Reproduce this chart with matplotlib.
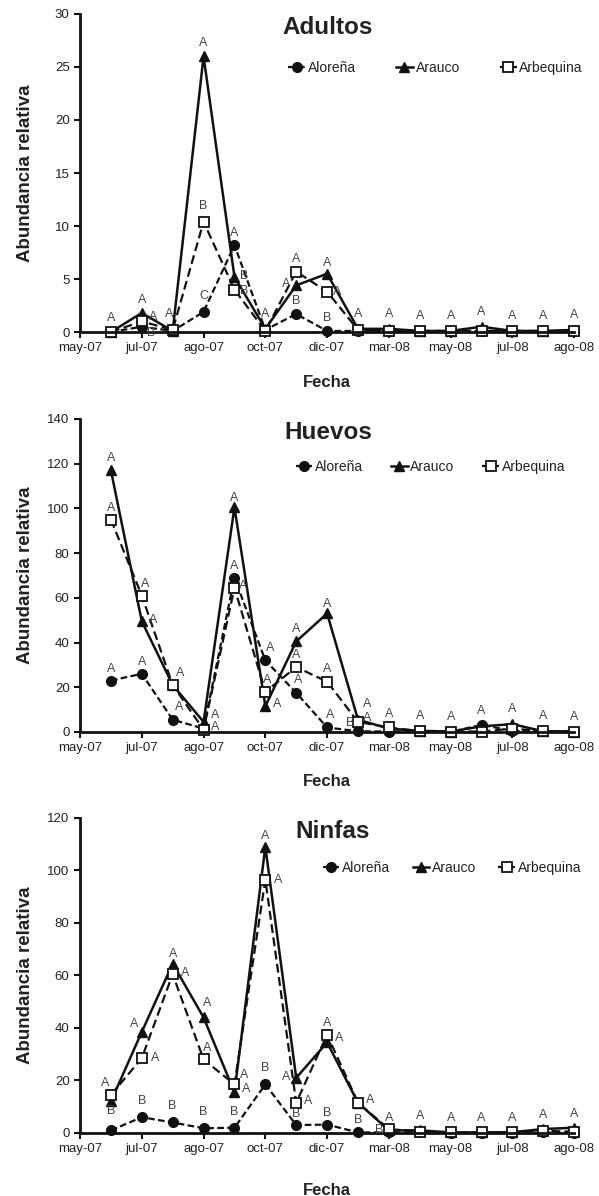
import numpy as np
import matplotlib.pyplot as plt

plt.rcParams['font.family'] = ['Liberation Sans', 'DejaVu Sans']

# muestreos (posicion en el eje de categorias)
muestreo = np.arange(1, 17)
tick_pos = np.arange(0, 17, 2)
tick_lab = ['may-07', 'jul-07', 'ago-07', 'oct-07', 'dic-07',
            'mar-08', 'may-08', 'jul-08', 'ago-08']

# Adultos
adu_aloreña = [0, 0.5, 0.1, 1.9, 8.2, 0.2, 1.7, 0.1, 0.1, 0.1, 0.05, 0.05, 0.1, 0.1, 0.05, 0.1]
adu_arauco = [0, 1.8, 0.1, 26, 5.2, 0.3, 4.4, 5.5, 0.3, 0.3, 0.1, 0.1, 0.5, 0.1, 0.1, 0.2]
adu_arbequina = [0, 1.0, 0.2, 10.4, 4.0, 0.1, 5.7, 3.8, 0.2, 0.1, 0.1, 0.1, 0.1, 0.1, 0.1, 0.1]

# Huevos
hue_aloreña = [23, 26, 5.5, 1.5, 69, 32, 17.5, 2, 0.3, 0.2, 0.3, 0, 3.2, 0.5, 0.3, 0.2]
hue_arauco = [117, 49.5, 21, 4.5, 100.5, 11.5, 40.5, 53, 5.5, 1.5, 0.5, 0.2, 2.5, 3.5, 0.3, 0.2]
hue_arbequina = [95, 61, 21, 1, 64.5, 18, 29, 22.5, 4.5, 2, 0.3, 0.2, 0.2, 1.5, 0.3, 0.2]

# Ninfas
nin_aloreña = [1, 6, 4, 1.8, 2, 18.5, 3, 3.2, 0.2, 0.2, 0.3, 0.1, 0.1, 0.1, 0.2, 0.1]
nin_arauco = [12, 38.5, 64.5, 44, 15.5, 109, 21, 34.5, 11.5, 1, 1, 0.2, 0.2, 0.3, 1.5, 2]
nin_arbequina = [14.5, 28.5, 60.5, 28, 18.5, 96.5, 11.5, 37.5, 11.5, 1.5, 0.5, 0.2, 0.2, 0.3, 0.8, 0.5]

# letras de significancia: (serie, muestreo, letra, dx, dy) dx/dy en pixeles
adu_letras = [('ar', 1, 'A', 0, 14), ('ar', 2, 'A', 0, 13), ('bq', 2, 'A', 11, 4), ('al', 2, 'B', 9, -6),
              ('bq', 3, 'A', -4, 16), ('ar', 4, 'A', 0, 13), ('bq', 4, 'B', 0, 16), ('al', 4, 'C', 0, 16),
              ('al', 5, 'A', 0, 12), ('ar', 5, 'B', 10, 1), ('bq', 5, 'B', 10, -1), ('ar', 6, 'A', 0, 15),
              ('bq', 7, 'A', 0, 13), ('ar', 7, 'A', -10, 1), ('al', 7, 'B', 0, 13),
              ('ar', 8, 'A', 0, 11), ('bq', 8, 'A', 10, 0), ('al', 8, 'B', 0, 13)] + \
             [('ar', i, 'A', 0, 15) for i in range(9, 17)]
hue_letras = [('ar', 1, 'A', 0, 12), ('bq', 1, 'A', 0, 12), ('al', 1, 'A', 0, 12),
              ('bq', 2, 'A', 3, 12), ('ar', 2, 'A', 11, 1), ('al', 2, 'A', 0, 12),
              ('bq', 3, 'A', 7, 12), ('al', 3, 'A', 6, 13), ('ar', 4, 'A', 12, 7), ('bq', 4, 'A', 12, 3),
              ('ar', 5, 'A', 0, 9), ('al', 5, 'A', 0, 12), ('bq', 5, 'A', 9, 2),
              ('al', 6, 'A', 5, 12), ('bq', 6, 'A', 2, 12), ('ar', 6, 'A', 12, 2),
              ('ar', 7, 'A', 0, 12), ('bq', 7, 'A', 0, 12), ('al', 7, 'A', 2, 13),
              ('ar', 8, 'A', 0, 9), ('bq', 8, 'A', 0, 13), ('al', 8, 'A', 3, 12),
              ('ar', 9, 'A', 9, 16), ('bq', 9, 'A', 9, 4), ('al', 9, 'B', -8, 8)] + \
             [('ar', i, 'A', 0, 15) for i in range(10, 17)]
nin_letras = [('bq', 1, 'A', -6, 12), ('al', 1, 'B', 0, 19),
              ('ar', 2, 'A', -8, 8), ('bq', 2, 'A', 13, 0), ('al', 2, 'B', 0, 16),
              ('ar', 3, 'A', 0, 10), ('bq', 3, 'A', 12, 1), ('al', 3, 'B', 0, 16),
              ('ar', 4, 'A', 4, 14), ('bq', 4, 'A', 4, 11), ('al', 4, 'B', 0, 16),
              ('bq', 5, 'A', 10, 9), ('ar', 5, 'A', 12, 3), ('al', 5, 'B', 0, 16),
              ('ar', 6, 'A', 0, 11), ('bq', 6, 'A', 13, 0), ('al', 6, 'B', 0, 16),
              ('ar', 7, 'A', -10, 1), ('bq', 7, 'A', 12, 2), ('al', 7, 'B', 0, 11),
              ('bq', 8, 'A', 0, 12), ('ar', 8, 'A', 12, 4), ('al', 8, 'B', 0, 12),
              ('bq', 9, 'A', 12, 3), ('al', 9, 'B', 0, 12),
              ('bq', 10, 'A', 0, 11), ('al', 10, 'B', -10, 2)] + \
             [('ar', i, 'A', 0, 14) for i in range(11, 17)]

paneles = [
    ('Adultos', adu_aloreña, adu_arauco, adu_arbequina, adu_letras, 30, 5,
     [0.1336, 0.7224, 0.825, 0.2659], (0.41, 0.83), 2.9, 0.5, 15),
    ('Huevos', hue_aloreña, hue_arauco, hue_arbequina, hue_letras, 140, 20,
     [0.1336, 0.388, 0.825, 0.2617], (0.425, 0.847), 2.0, 0.502, 14),
    ('Ninfas', nin_aloreña, nin_arauco, nin_arbequina, nin_letras, 120, 20,
     [0.1336, 0.0527, 0.825, 0.2634], (0.48, 0.841), 1.6, 0.512, 20),
]

fig = plt.figure(figsize=(5.99, 11.96), dpi=100)

for (titulo, al, ar, bq, letras, ymax, ystep, rect, leg_pos, colsp, tx, xpad) in paneles:
    ax = fig.add_axes(rect)
    series = {'al': al, 'ar': ar, 'bq': bq}
    ax.plot(muestreo, al, color='#111111', linestyle=(0, (3, 1.5)), linewidth=1.6,
            marker='o', markersize=7, markerfacecolor='#111111', label='Aloreña', clip_on=False)
    ax.plot(muestreo, ar, color='#111111', linestyle='-', linewidth=1.8,
            marker='^', markersize=7, markerfacecolor='#111111', label='Arauco', clip_on=False)
    ax.plot(muestreo, bq, color='#111111', linestyle=(0, (4, 2)), linewidth=1.6,
            marker='s', markersize=7, markerfacecolor='white', markeredgewidth=1.3,
            label='Arbequina', clip_on=False)

    for s, i, letra, dx, dy in letras:
        ax.annotate(letra, xy=(i, series[s][i - 1]), xytext=(dx, dy),
                    textcoords='offset pixels', ha='center', va='center',
                    fontsize=9, color='#444444')

    ax.set_xlim(0, 16)
    ax.set_ylim(0, ymax)
    ax.set_yticks(np.arange(0, ymax + 1, ystep))
    ax.set_xticks(tick_pos)
    ax.set_xticklabels(tick_lab)
    ax.tick_params(axis='both', direction='out', length=4, width=1.5,
                   labelsize=9.5, colors='#111111', labelcolor='#222222')
    for sp in ['top', 'right']:
        ax.spines[sp].set_visible(False)
    for sp in ['left', 'bottom']:
        ax.spines[sp].set_linewidth(2)
        ax.spines[sp].set_color('#111111')

    ax.set_ylabel('Abundancia relativa', fontsize=13.5, fontweight='bold', color='#222222')
    ax.yaxis.set_label_coords(-0.094, 0.5)
    ax.set_xlabel('Fecha', fontsize=12, fontweight='bold', color='#222222', labelpad=xpad)
    ax.text(tx, 0.958, titulo, transform=ax.transAxes, ha='center', va='center',
            fontsize=17.5, fontweight='bold', color='#222222')
    ax.legend(loc='center left', bbox_to_anchor=leg_pos, ncol=3, frameon=False,
              fontsize=10, handlelength=1.2, handletextpad=0.2, columnspacing=colsp,
              borderaxespad=0, labelcolor='#222222')

fig.savefig('out.png', dpi=100)
